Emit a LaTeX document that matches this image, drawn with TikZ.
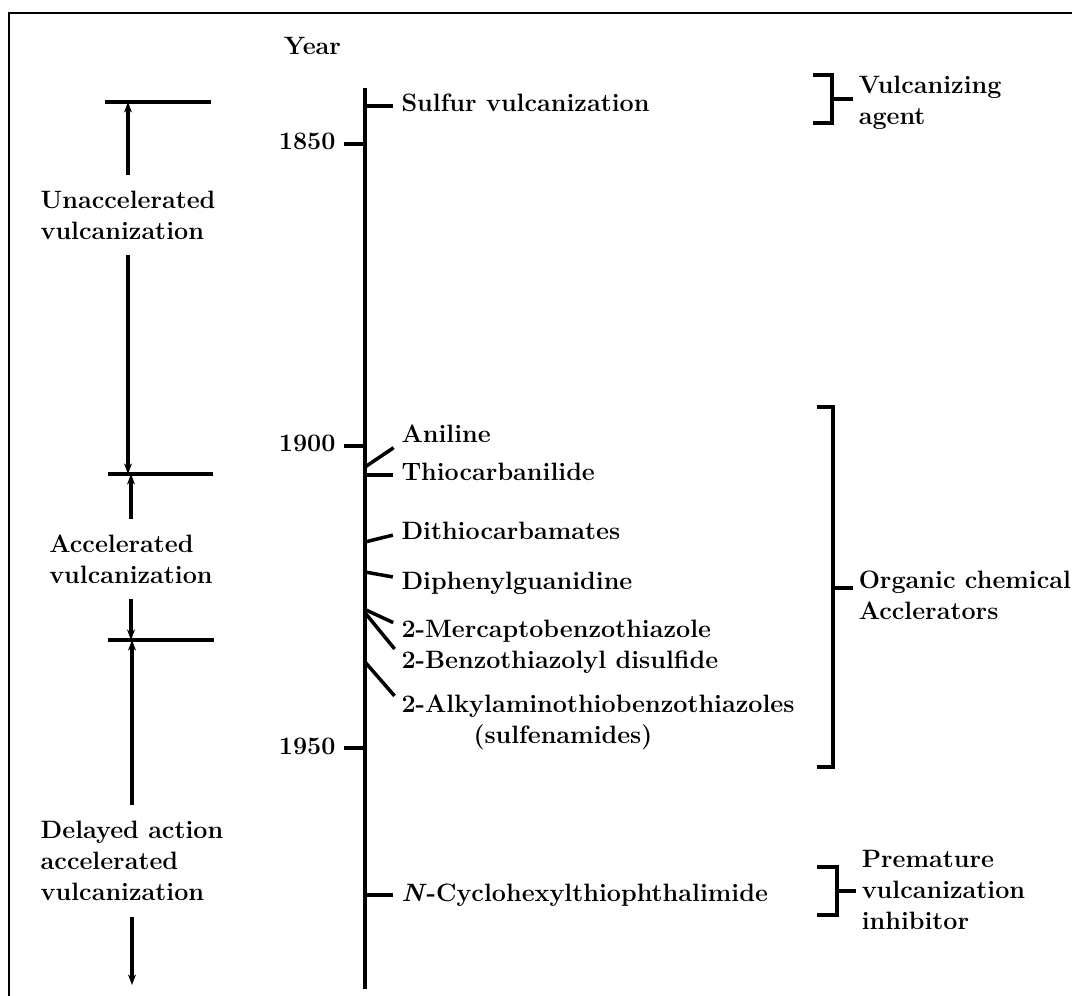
\documentclass[tikz,border=0pt]{standalone}
\usetikzlibrary{arrows.meta}
\begin{document}
\begin{tikzpicture}[x=0.02cm,y=-0.02cm,line width=2pt,
    font=\fontsize{14.3}{17.6}\selectfont\bfseries,
    lbl/.style={anchor=base west,inner sep=1pt,text height=9.5pt,text depth=2.5pt},
    yr/.style={anchor=base east,inner sep=1pt,text height=9.5pt,text depth=2.5pt},
    era/.style={align=left,inner xsep=0pt,inner ysep=8pt},
    grp/.style={align=left,anchor=north west,inner sep=0pt},
    period/.style={-{Stealth[length=6pt,width=4.5pt]}},
    twig/.style={shorten >=3pt}]
    \useasboundingbox (0,0) rectangle (1072,996);
    \draw[line width=0.7pt] (9,996) -- (9,13) -- (1072,13);

    % time axis
    \coordinate (axtop) at (365,88);
    \coordinate (axbot) at (365,989);
    \draw (axtop) -- (axbot);
    \node (year) [anchor=base west,inner sep=0pt] at (282,55) {Year};

    \node (y1850) [yr] at (339,150) {1850};
    \node (y1900) [yr] at (339,452) {1900};
    \node (y1950) [yr] at (339,754) {1950};
    \coordinate (t1850) at (365,144);
    \coordinate (t1900) at (365,446);
    \coordinate (t1950) at (365,748);
    \draw[twig] (t1850) -- (t1850 -| y1850.east);
    \draw[twig] (t1900) -- (t1900 -| y1900.east);
    \draw[twig] (t1950) -- (t1950 -| y1950.east);

    % chemicals
    \node (sulfur) [lbl] at (398,112) {Sulfur vulcanization};
    \node (anil) [lbl] at (398,443) {Aniline};
    \node (thio) [lbl] at (398,481) {Thiocarbanilide};
    \node (dtc) [lbl] at (398,540) {Dithiocarbamates};
    \node (dpg) [lbl] at (398,590) {Diphenylguanidine};
    \node (mbt) [lbl] at (398,638) {2-Mercaptobenzothiazole};
    \node (mbts) [lbl] at (398,668) {2-Benzothiazolyl disulfide};
    \node (sulf) [lbl] at (398,712) {2-Alkylaminothiobenzothiazoles};
    \node (sulfb) [lbl] at (470,743) {(sulfenamides)};
    \node (cthp) [lbl] at (398,901) {\textit{N}-Cyclohexylthiophthalimide};

    \coordinate (a0) at (365,106);
    \coordinate (a1) at (365,467);
    \coordinate (a2) at (365,475);
    \coordinate (a3) at (365,542);
    \coordinate (a4) at (365,572);
    \coordinate (a5) at (366,610);
    \coordinate (a6) at (366,614);
    \coordinate (a7) at (365,662);
    \coordinate (a8) at (365,895);
    \draw[twig] (a0) -- (a0 -| sulfur.west);
    \draw[twig] (a1) -- ([yshift=-4.5pt]anil.west);
    \draw[twig] (a2) -- (a2 -| thio.west);
    \draw[twig] (a3) -- (dtc.west);
    \draw[twig] (a4) -- ([yshift=3.4pt]dpg.west);
    \draw[twig] (a5) -- ([yshift=4pt]mbt.west);
    \draw[twig] (a6) -- ([yshift=5pt]mbts.west);
    \draw[twig] (a7) -- ([yshift=3.4pt]sulf.west);
    \draw[twig] (a8) -- (a8 -| cthp.west);

    % groups
    \node (agent) [grp] at (857,74) {Vulcanizing\\agent};
    \node (accl) [grp] at (857,569) {Organic chemical\\Acclerators};
    \node (inhb) [grp] at (860,849) {Premature\\vulcanization\\inhibitor};

    \coordinate (g0) at (832,99);
    \coordinate (g1) at (833,588);
    \coordinate (g2) at (837,891);
    \draw (813,75) -- (832,75) -- (832,123) -- (813,123);
    \draw (817,407) -- (833,407) -- (833,767) -- (817,767);
    \draw (817,867) -- (837,867) -- (837,915) -- (817,915);
    \draw[shorten >=2pt] (g0) -- (g0 -| agent.west);
    \draw[shorten >=2pt] (g1) -- (g1 -| accl.west);
    \draw[shorten >=2pt] (g2) -- (g2 -| inhb.west);

    % periods
    \coordinate (b0l) at (105,102);
    \coordinate (b0r) at (211,102);
    \coordinate (b1l) at (108,474);
    \coordinate (b1r) at (213,474);
    \coordinate (b2l) at (108,640);
    \coordinate (b2r) at (214,640);
    \coordinate (now) at (130,985);
    \draw (b0l) -- (b0r);
    \draw (b1l) -- (b1r);
    \draw (b2l) -- (b2r);

    \node (unacc) [era] at (128,215) {Unaccelerated\\vulcanization};
    \node (accel) [era] at (131,559) {Accelerated\\vulcanization};
    \node (delay) [era] at (132,861) {Delayed action\\accelerated\\vulcanization};

    \draw[period] (unacc.north) -- (unacc.north |- b0l);
    \draw[period] (unacc.south) -- (unacc.south |- b1l);
    \draw[period] (accel.north) -- (accel.north |- b1l);
    \draw[period] (accel.south) -- (accel.south |- b2l);
    \draw[period] (delay.north) -- (delay.north |- b2l);
    \draw[period] (delay.south) -- (delay.south |- now);
  \end{tikzpicture}
\end{document}
